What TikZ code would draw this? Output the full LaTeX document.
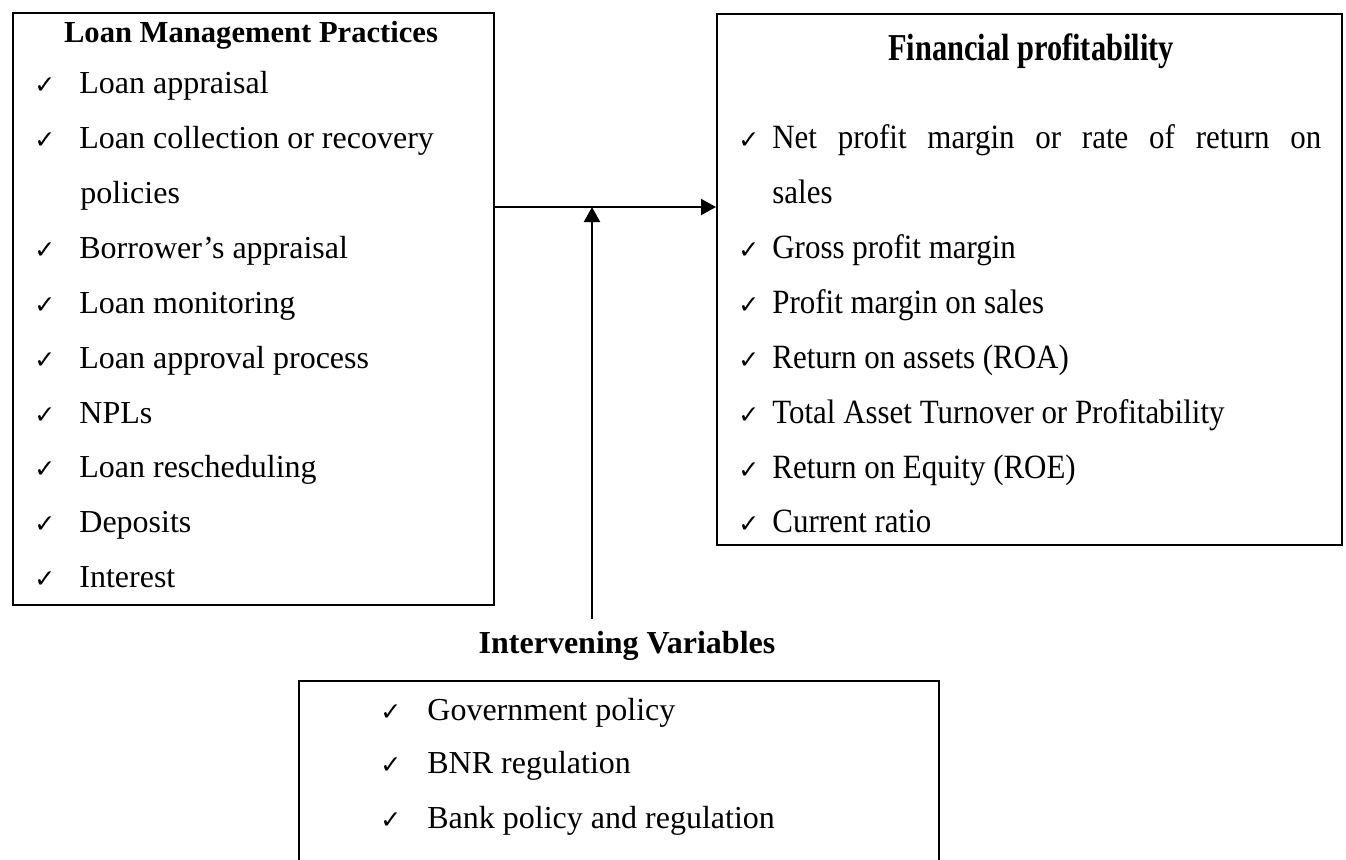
\documentclass[tikz,border=0pt]{standalone}
\usepackage{fontspec}
\setmainfont{Liberation Serif}
\newfontfamily\dejavu{DejaVu Sans}
\newfontfamily\condserif[FakeStretch=0.91]{Liberation Serif}
\usetikzlibrary{arrows.meta}
\newcommand{\ck}{{\dejavu\bfseries\fontsize{12.5}{14}\selectfont ✓}}
\newcommand{\lck}[1]{\makebox[22.5pt][l]{\ck}#1}
\newcommand{\rck}[1]{\makebox[17pt][l]{\ck}#1}
\newcommand{\bck}[1]{\makebox[23.5pt][l]{\ck}#1}
\tikzset{
  box/.style={draw, line width=1.1pt, anchor=north west, inner sep=0pt},
  litem/.style={anchor=base west, inner sep=0pt, font=\fontsize{16}{19}\selectfont},
  ritem/.style={anchor=base west, inner sep=0pt, font=\condserif\fontsize{17}{20}\selectfont},
  ttl/.style={anchor=base, inner sep=0pt},
  arr/.style={line width=1pt, -{Triangle[length=7.5pt,width=8pt]}}
}
\begin{document}
\begin{tikzpicture}[x=0.5pt,y=-0.5pt]
\useasboundingbox (0,0) rectangle (1346,859);
\clip (0,0) rectangle (1346,859);
% boxes
\node[box, minimum width=240.5pt, minimum height=296pt] (L) at (12,12) {};
\node[box, minimum width=312.5pt, minimum height=265.5pt] (R) at (716,13) {};
\node[box, minimum width=320pt, minimum height=150pt] (B) at (298,680) {};
% left box
\node[ttl, font=\bfseries\fontsize{15.3}{18}\selectfont] (lt) at (251,42) {Loan Management Practices};
\node[litem] (l1) at (34,93) {\lck{Loan appraisal}};
\node[litem] (l2) at (34,148) {\lck{Loan collection or recovery}};
\node[litem] (l3) at (80,203) {policies};
\node[litem] (l4) at (34,258) {\lck{Borrower’s appraisal}};
\node[litem] (l5) at (34,313) {\lck{Loan monitoring}};
\node[litem] (l6) at (34,368) {\lck{Loan approval process}};
\node[litem] (l7) at (34,423) {\lck{NPLs}};
\node[litem] (l8) at (34,477) {\lck{Loan rescheduling}};
\node[litem] (l9) at (34,532) {\lck{Deposits}};
\node[litem] (l10) at (34,587) {\lck{Interest}};
% right box
\node[ttl, font=\bfseries\fontsize{19}{22}\selectfont] (rt) at (1031,60) {\scalebox{0.8}[1]{Financial profitability}};
\node[ritem] (r1) at (738,148) {\rck{\makebox[274.5pt][s]{Net profit margin or rate of return on}}};
\node[ritem] (r2) at (772,203) {sales};
\node[ritem] (r3) at (738,258) {\rck{Gross profit margin}};
\node[ritem] (r4) at (738,313) {\rck{Profit margin on sales}};
\node[ritem] (r5) at (738,368) {\rck{Return on assets (ROA)}};
\node[ritem] (r6) at (738,423) {\rck{Total Asset Turnover or Profitability}};
\node[ritem] (r7) at (738,478) {\rck{Return on Equity (ROE)}};
\node[ritem] (r8) at (738,532) {\rck{Current ratio}};
% intervening
\node[ttl, font=\bfseries\fontsize{16}{19}\selectfont] (it) at (627,653) {Intervening Variables};
\node[litem] (b1) at (380,720) {\bck{Government policy}};
\node[litem] (b2) at (380,773) {\bck{BNR regulation}};
\node[litem] (b3) at (380,828) {\bck{Bank policy and regulation}};
% connectors
\coordinate (hy) at (600,207);
\coordinate (vb) at (592,619);
\coordinate (vt) at (592,207);
\draw[arr] (L.east |- hy) -- (R.west |- hy);
\draw[arr] (vb) -- (vt);
\end{tikzpicture}
\end{document}
